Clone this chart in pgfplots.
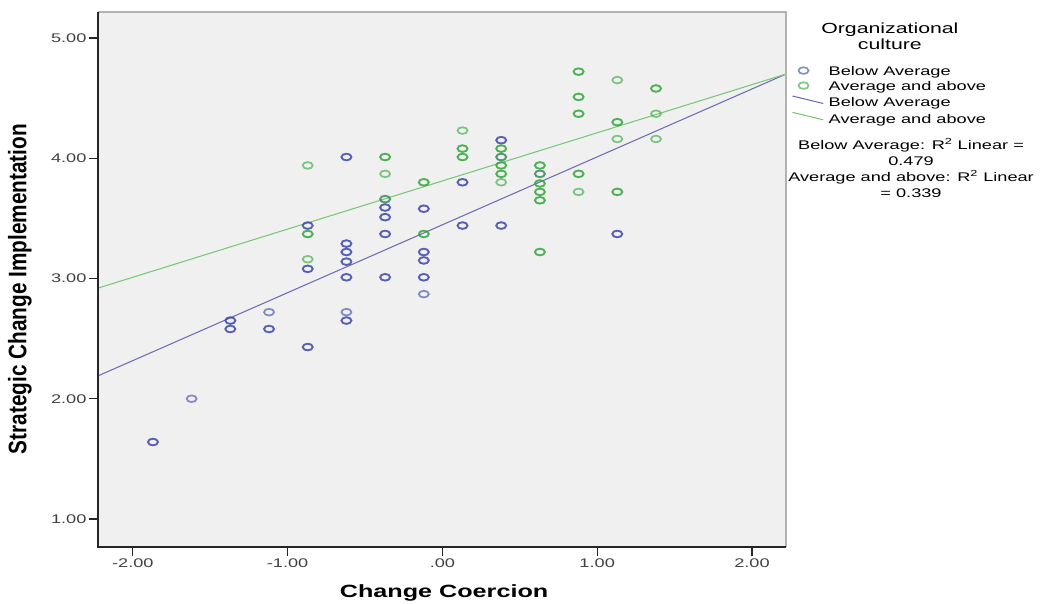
\documentclass[border=0pt]{standalone}
\usepackage{pgfplots}
\pgfplotsset{compat=1.18}
\usepackage{fontspec}
\setmainfont{Liberation Sans}
\newfontfamily\widefont[FakeStretch=1.45]{Liberation Sans}
\newfontfamily\labfont[FakeStretch=1.42]{Liberation Sans}
\newfontfamily\narrowfont[FakeStretch=0.82]{Liberation Sans}

\definecolor{ptblue}{RGB}{58,68,165}
\definecolor{ptgreen}{RGB}{45,165,55}
\definecolor{lnblue}{RGB}{110,110,180}
\definecolor{lngreen}{RGB}{120,200,120}
\definecolor{bggray}{RGB}{240,240,240}

% points drawn twice are overlapping cases (darker in the original)
\pgfplotstableread{
x y
-1.87 1.64
-1.87 1.64
-1.62 2.00
-1.37 2.65
-1.37 2.65
-1.37 2.58
-1.37 2.58
-1.12 2.72
-1.12 2.58
-1.12 2.58
-0.87 2.43
-0.87 2.43
-0.87 3.44
-0.87 3.44
-0.87 3.08
-0.87 3.08
-0.62 4.01
-0.62 4.01
-0.62 3.29
-0.62 3.29
-0.62 3.22
-0.62 3.22
-0.62 3.14
-0.62 3.14
-0.62 3.01
-0.62 3.01
-0.62 2.72
-0.62 2.65
-0.62 2.65
-0.37 3.66
-0.37 3.59
-0.37 3.59
-0.37 3.51
-0.37 3.51
-0.37 3.37
-0.37 3.37
-0.37 3.01
-0.37 3.01
-0.12 3.58
-0.12 3.58
-0.12 3.22
-0.12 3.22
-0.12 3.15
-0.12 3.15
-0.12 3.01
-0.12 3.01
-0.12 2.87
0.13 3.80
0.13 3.80
0.13 3.44
0.13 3.44
0.38 4.15
0.38 4.15
0.38 4.01
0.38 3.44
0.38 3.44
0.63 3.87
1.13 3.37
1.13 3.37
}\belowavg

\pgfplotstableread{
x y
-0.87 3.94
-0.87 3.37
-0.87 3.37
-0.87 3.16
-0.37 4.01
-0.37 4.01
-0.37 3.87
-0.37 3.66
-0.12 3.80
-0.12 3.80
-0.12 3.37
-0.12 3.37
0.13 4.23
0.13 4.08
0.13 4.08
0.13 4.01
0.13 4.01
0.38 4.08
0.38 4.08
0.38 4.01
0.38 3.94
0.38 3.94
0.38 3.87
0.38 3.87
0.38 3.80
0.63 3.94
0.63 3.94
0.63 3.87
0.63 3.79
0.63 3.79
0.63 3.72
0.63 3.72
0.63 3.65
0.63 3.65
0.63 3.22
0.63 3.22
0.88 4.72
0.88 4.72
0.88 4.51
0.88 4.51
0.88 4.37
0.88 4.37
0.88 3.87
0.88 3.87
0.88 3.72
1.13 4.65
1.13 4.30
1.13 4.30
1.13 4.16
1.13 3.72
1.13 3.72
1.38 4.58
1.38 4.58
1.38 4.37
1.38 4.16
}\avgabove

\begin{document}
\begin{tikzpicture}
\path[use as bounding box] (-73.5pt,-42pt) rectangle (709.5pt,410.25pt);
\begin{axis}[
    scale only axis,
    width=516pt, height=401.25pt,
    xmin=-2.225, xmax=2.22,
    ymin=0.767, ymax=5.216,
    clip=false,
    axis background/.style={fill=bggray},
    axis line style={draw=none},
    xtick={-2,-1,0,1,2},
    xticklabels={-2.00,-1.00,.00,1.00,2.00},
    ytick={1,2,3,4,5},
    yticklabels={1.00,2.00,3.00,4.00,5.00},
    tick pos=left,
    tick align=outside,
    major tick length=7pt,
    tick style={draw=black!85, line width=0.9pt},
    ticklabel style={font=\widefont\fontsize{9.4}{11}\selectfont, text=black!75, inner sep=1.5pt},
    xlabel={Change Coercion},
    ylabel={Strategic Change Implementation},
    xlabel style={font=\labfont\bfseries\fontsize{13.3}{15}\selectfont,
        at={(axis description cs:0.503,-0.086)}, anchor=center},
    ylabel style={font=\narrowfont\bfseries\fontsize{19}{22}\selectfont,
        at={(axis description cs:-0.1134,0.482)}, anchor=center},
    legend cell align=left,
    legend style={at={(axis description cs:1.0087,0.9)}, anchor=north west,
        draw=none, fill=none, inner sep=0pt, outer sep=0pt,
        font=\widefont\fontsize{9.4}{11}\selectfont, row sep=1.25pt,
        nodes={inner sep=0pt, text height=7.5pt, text depth=2.5pt},
        /tikz/column 1/.style={column sep=3.75pt}},
    scatterpt/.style={only marks, mark=o, mark size=2.5pt,
        mark options={xscale=1.5, draw=#1, draw opacity=0.6, line width=1.3pt},
        legend image code/.code={\path (0pt,1.2pt) (23pt,1.2pt);
            \draw[##1, mark repeat=2, mark phase=2]
              plot coordinates {(0pt,1.2pt) (8.25pt,1.2pt) (16.5pt,1.2pt)};}},
    fitline/.style={draw=#1, line width=0.8pt,
        legend image code/.code={\draw[##1] (0pt,5.6pt) -- (23pt,0pt);}},
]
\addplot[scatterpt=ptblue] table {\belowavg};
\addlegendentry{Below Average}
\addplot[scatterpt=ptgreen] table {\avgabove};
\addlegendentry{Average and above}
\addplot[fitline=lnblue] coordinates {(-2.225,2.19) (2.22,4.70)};
\addlegendentry{Below Average}
\addplot[fitline=lngreen] coordinates {(-2.225,2.92) (2.22,4.70)};
\addlegendentry{Average and above}

\draw[gray!60, line width=1.2pt] (rel axis cs:0,1) -- (rel axis cs:1,1) -- (rel axis cs:1,0);
\draw[black!85, line width=1.2pt] (rel axis cs:0,1) -- (rel axis cs:0,0) -- (rel axis cs:1,0);

\node[font=\widefont\fontsize{11}{12}\selectfont, align=center]
    at (axis description cs:1.151,0.955) {Organizational\\culture};
\node[font=\widefont\fontsize{9.4}{12}\selectfont, align=center]
    at (axis description cs:1.1817,0.7084)
    {Below Average: R\textsuperscript{2} Linear =\\0.479\\Average and above: R\textsuperscript{2} Linear\\= 0.339};
\end{axis}
\end{tikzpicture}
\end{document}
